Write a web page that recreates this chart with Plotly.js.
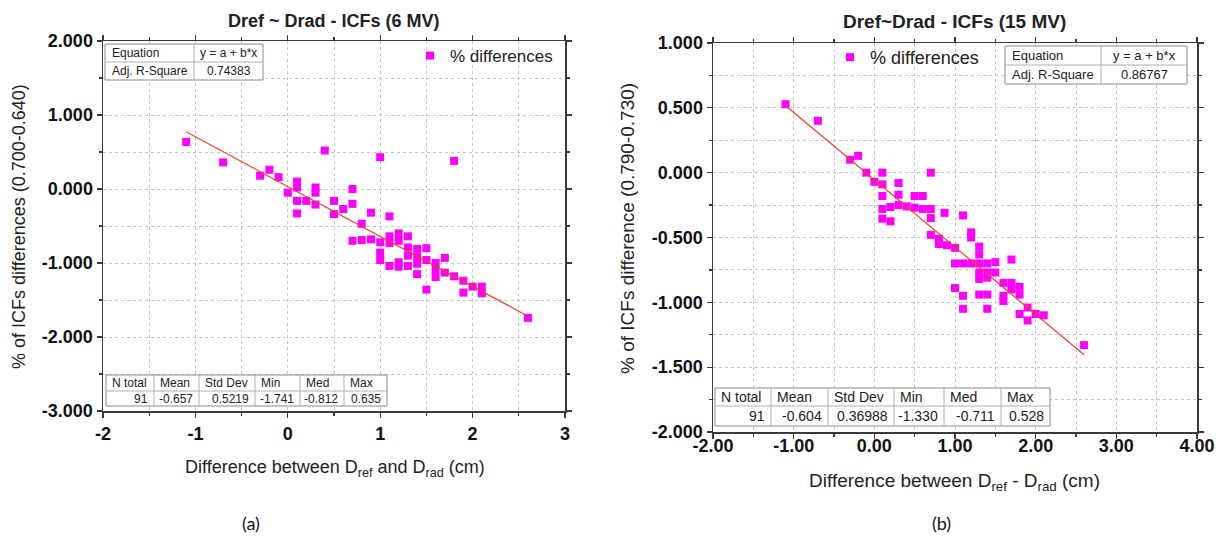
<!DOCTYPE html>
<html>
<head>
<meta charset="utf-8">
<script src="https://cdn.plot.ly/plotly-3.0.1.min.js"></script>
<style>html,body{margin:0;padding:0;background:#fff;}#chart{width:1219px;height:542px;}</style>
</head>
<body>
<div id="chart"></div>
<script>
// ---------- data ----------
const x6 = [-1.1,-0.7,-0.3,-0.2,-0.1,0.4,0.1,0.1,0.0,0.1,0.2,0.3,0.3,0.3,0.1,0.5,0.5,1.0,1.8,
  0.7,0.6,0.7,0.9,1.1,0.8,0.7,0.8,0.9,1.0,1.1,1.1,1.2,1.2,1.3,1.0,1.0,1.1,1.2,1.2,1.3,1.3,1.3,
  1.4,1.4,1.4,1.4,1.5,1.5,1.5,1.6,1.6,1.6,1.7,1.7,1.8,1.9,1.9,2.0,2.1,2.1,2.6];
const y6 = [0.635,0.36,0.18,0.26,0.16,0.52,0.10,0.02,-0.05,-0.16,-0.16,0.02,-0.05,-0.21,-0.33,-0.16,-0.34,0.43,0.38,
  0.0,-0.27,-0.20,-0.32,-0.37,-0.47,-0.70,-0.69,-0.68,-0.72,-0.64,-0.73,-0.60,-0.70,-0.64,-0.86,-0.96,-1.04,-0.99,-1.05,-0.79,-0.90,-1.04,
  -0.81,-0.92,-1.01,-1.15,-0.80,-0.96,-1.36,-1.00,-1.09,-1.19,-0.93,-1.13,-1.18,-1.24,-1.40,-1.32,-1.32,-1.41,-1.741];

const x15 = [-1.1,-0.7,-0.3,-0.2,-0.1,0.1,0.7,0.0,0.1,0.3,0.1,0.3,0.5,0.6,0.1,0.2,0.3,0.4,0.5,0.6,0.7,0.87,0.1,0.2,0.7,0.7,
  1.1,1.2,1.2,1.3,1.3,1.0,0.8,0.8,0.9,1.0,1.1,1.2,1.3,1.4,1.5,1.7,1.3,1.4,1.5,1.3,1.4,1.6,1.7,
  1.0,1.1,1.3,1.4,1.6,1.7,1.8,1.8,1.6,1.1,1.4,1.8,1.9,1.9,2.0,2.1,2.6];
const y15 = [0.528,0.40,0.10,0.13,0.0,0.0,0.0,-0.07,-0.09,-0.08,-0.18,-0.17,-0.18,-0.18,-0.28,-0.265,-0.25,-0.26,-0.27,-0.28,-0.28,-0.31,-0.355,-0.375,-0.35,-0.48,
  -0.33,-0.46,-0.50,-0.57,-0.63,-0.58,-0.51,-0.55,-0.56,-0.70,-0.70,-0.70,-0.70,-0.70,-0.69,-0.67,-0.77,-0.77,-0.77,-0.82,-0.81,-0.85,-0.85,
  -0.89,-0.95,-0.94,-0.94,-0.95,-0.90,-0.88,-0.94,-0.99,-1.05,-1.05,-1.09,-1.04,-1.14,-1.09,-1.10,-1.33];

// linear fits y = a + b*x
const fit6 = {a: 0.033, b: -0.674, xr: [-1.1, 2.6]};
const fit15 = {a: -0.055, b: -0.519, xr: [-1.1, 2.6]};

// table texts
const eqLabels = ["Equation", "Adj. R-Square"];
const eqValues6 = ["y = a + b*x", "0.74383"];
const eqValues15 = ["y = a + b*x", "0.86767"];
const statHeaders = ["N total", "Mean", "Std Dev", "Min", "Med", "Max"];
const stats6 = ["91", "-0.657", "0.5219", "-1.741", "-0.812", "0.635"];
const stats15 = ["91", "-0.604", "0.36988", "-1.330", "-0.711", "0.528"];

// tick values and labels
const xTicks6 = [-2,-1,0,1,2,3];
const xTickText6 = ["-2","-1","0","1","2","3"];
const yTicks6 = [-3,-2,-1,0,1,2];
const yTickText6 = ["-3.000","-2.000","-1.000","0.000","1.000","2.000"];
const xTicks15 = [-2,-1,0,1,2,3,4];
const xTickText15 = ["-2.00","-1.00","0.00","1.00","2.00","3.00","4.00"];
const yTicks15 = [-2,-1.5,-1,-0.5,0,0.5,1];
const yTickText15 = ["-2.000","-1.500","-1.000","-0.500","0.000","0.500","1.000"];

// ---------- layout helpers ----------
const W = 1219, H = 542;
const fx = p => p / W;
const fy = p => 1 - p / H;

const MAG = '#ff00ff';
const RED = 'rgb(232,64,40)';
const FRAME = '#3a3a3a';
const GRID = '#c4c4c4';
const SANS = 'Liberation Sans, Arial, sans-serif';
const NARROW = 'Liberation Sans Narrow, Liberation Sans, Arial, sans-serif';

function lineY(f){ return f.xr.map(x => f.a + f.b * x); }

const traces = [
  {x: x6, y: y6, type: 'scatter', mode: 'markers', name: '% differences', xaxis: 'x', yaxis: 'y',
   marker: {symbol: 'square', size: 8, color: MAG}, legend: 'legend'},
  {x: fit6.xr, y: lineY(fit6), type: 'scatter', mode: 'lines', xaxis: 'x', yaxis: 'y',
   line: {color: RED, width: 1.2}, showlegend: false},
  {x: x15, y: y15, type: 'scatter', mode: 'markers', name: '% differences', xaxis: 'x2', yaxis: 'y2',
   marker: {symbol: 'square', size: 8, color: MAG}, legend: 'legend2'},
  {x: fit15.xr, y: lineY(fit15), type: 'scatter', mode: 'lines', xaxis: 'x2', yaxis: 'y2',
   line: {color: RED, width: 1.2}, showlegend: false}
];

function axis(domain, range, tickvals, ticktext, minorDtick, anchor, extra){
  return Object.assign({
    domain: domain, range: range, anchor: anchor,
    tickmode: 'array', tickvals: tickvals, ticktext: ticktext,
    showline: true, mirror: 'ticks', linecolor: FRAME, linewidth: 1.5,
    ticks: 'outside', ticklen: 5, tickwidth: 1.2, tickcolor: FRAME,
    showgrid: true, gridcolor: GRID, griddash: 'dot', gridwidth: 1,
    zeroline: false, fixedrange: true,
    tickfont: {family: SANS, size: 18, color: '#111', weight: 'bold'},
    minor: {dtick: minorDtick, ticks: 'outside', ticklen: 3, tickcolor: FRAME,
            showgrid: true, gridcolor: GRID, griddash: 'dot', gridwidth: 1}
  }, extra || {});
}

const layout = {
  width: W, height: H, margin: {l: 0, r: 0, t: 0, b: 0},
  paper_bgcolor: '#fff', plot_bgcolor: '#fff',
  xaxis: axis([fx(103), fx(565)], [-2, 3], xTicks6, xTickText6, 0.5, 'y', {ticklabelstandoff: 1}),
  yaxis: axis([fy(411), fy(41)], [-3, 2], yTicks6, yTickText6, 0.5, 'x'),
  xaxis2: axis([fx(713), fx(1197)], [-2, 4], xTicks15, xTickText15, 0.5, 'y2', {ticklabelstandoff: -8}),
  yaxis2: axis([fy(432), fy(43)], [-2, 1], yTicks15, yTickText15, 0.25, 'x2'),
  legend: {x: fx(410), y: fy(38), xanchor: 'left', yanchor: 'top', bgcolor: 'rgba(0,0,0,0)',
           font: {family: SANS, size: 17, color: '#222'}, itemwidth: 30},
  legend2: {x: fx(830), y: fy(39), xanchor: 'left', yanchor: 'top', bgcolor: 'rgba(0,0,0,0)',
           font: {family: SANS, size: 18, color: '#222'}, itemwidth: 30},
  shapes: [],
  annotations: []
};

function ann(text, x, y, opts){
  layout.annotations.push(Object.assign({
    text: text, x: fx(x), y: fy(y), xref: 'paper', yref: 'paper', showarrow: false,
    xanchor: 'center', yanchor: 'middle',
    font: {family: SANS, size: 18, color: '#222'}
  }, opts || {}));
}
function rect(x0, y0, x1, y1){
  layout.shapes.push({type: 'rect', xref: 'paper', yref: 'paper', x0: fx(x0), x1: fx(x1), y0: fy(y1), y1: fy(y0),
    line: {color: '#8a8a8a', width: 1}, fillcolor: '#fff', layer: 'above'});
}
function seg(x0, y0, x1, y1){
  layout.shapes.push({type: 'line', xref: 'paper', yref: 'paper', x0: fx(x0), x1: fx(x1), y0: fy(y0), y1: fy(y1),
    line: {color: '#b0b0b0', width: 1}, layer: 'above'});
}

// titles
ann('Dref ~ Drad - ICFs (6 MV)', 334, 21, {font: {family: SANS, size: 18, color: '#222', weight: 'bold'}});
ann('Dref~Drad - ICFs (15 MV)', 955, 21, {font: {family: SANS, size: 19, color: '#222', weight: 'bold'}});
// axis titles
ann('Difference between D<sub>ref</sub> and D<sub>rad</sub> (cm)', 335, 468);
ann('Difference between D<sub>ref</sub> - D<sub>rad</sub> (cm)', 955, 482, {font: {family: SANS, size: 19, color: '#222'}});
ann('% of ICFs differences (0.700-0.640)', 19, 227, {textangle: -90});
ann('% of ICFs difference (0.790-0.730)', 627, 228, {textangle: -90, font: {family: SANS, size: 19, color: '#222'}});
// captions
ann('(a)', 251, 523, {font: {family: 'Lato, Open Sans, sans-serif', size: 18, color: '#111'}});
ann('(b)', 941, 523, {font: {family: 'Lato, Open Sans, sans-serif', size: 18, color: '#111'}});

// equation tables
function eqTable(x0, y0, x1, y1, xc, labels, values, fs){
  rect(x0, y0, x1, y1);
  const ym = (y0 + y1) / 2;
  seg(xc, y0, xc, y1);
  seg(x0, ym, x1, ym);
  const rows = [(y0 + ym) / 2, (ym + y1) / 2];
  labels.forEach((t, i) => ann(t, x0 + 5, rows[i], {xanchor: 'left', font: {family: NARROW, size: fs, color: '#222'}}));
  values.forEach((t, i) => ann(t, (xc + x1) / 2, rows[i], {font: {family: NARROW, size: fs, color: '#222'}}));
}
eqTable(105, 44, 263, 80, 194, eqLabels, eqValues6, 12);
eqTable(1005, 46, 1187, 84, 1101, eqLabels, eqValues15, 13);

// statistics tables
function statTable(x0, y0, x1, y1, ym, cols, values, fs){
  rect(x0, y0, x1, y1);
  seg(x0, ym, x1, ym);
  const edges = [x0].concat(cols).concat([x1]);
  cols.forEach(c => seg(c, y0, c, y1));
  const r1 = (y0 + ym) / 2, r2 = (ym + y1) / 2;
  statHeaders.forEach((t, i) => ann(t, edges[i] + 4, r1, {xanchor: 'left', font: {family: NARROW, size: fs, color: '#222'}}));
  values.forEach((t, i) => ann(t, edges[i + 1] - 4, r2, {xanchor: 'right', font: {family: NARROW, size: fs, color: '#222'}}));
}
statTable(106, 375, 387, 406, 391, [154, 199, 255, 300, 344], stats6, 12);
statTable(715, 388, 1050, 426, 406, [771, 828, 894, 944, 1001], stats15, 14);

Plotly.newPlot('chart', traces, layout, {displayModeBar: false, staticPlot: true});
</script>
</body>
</html>
